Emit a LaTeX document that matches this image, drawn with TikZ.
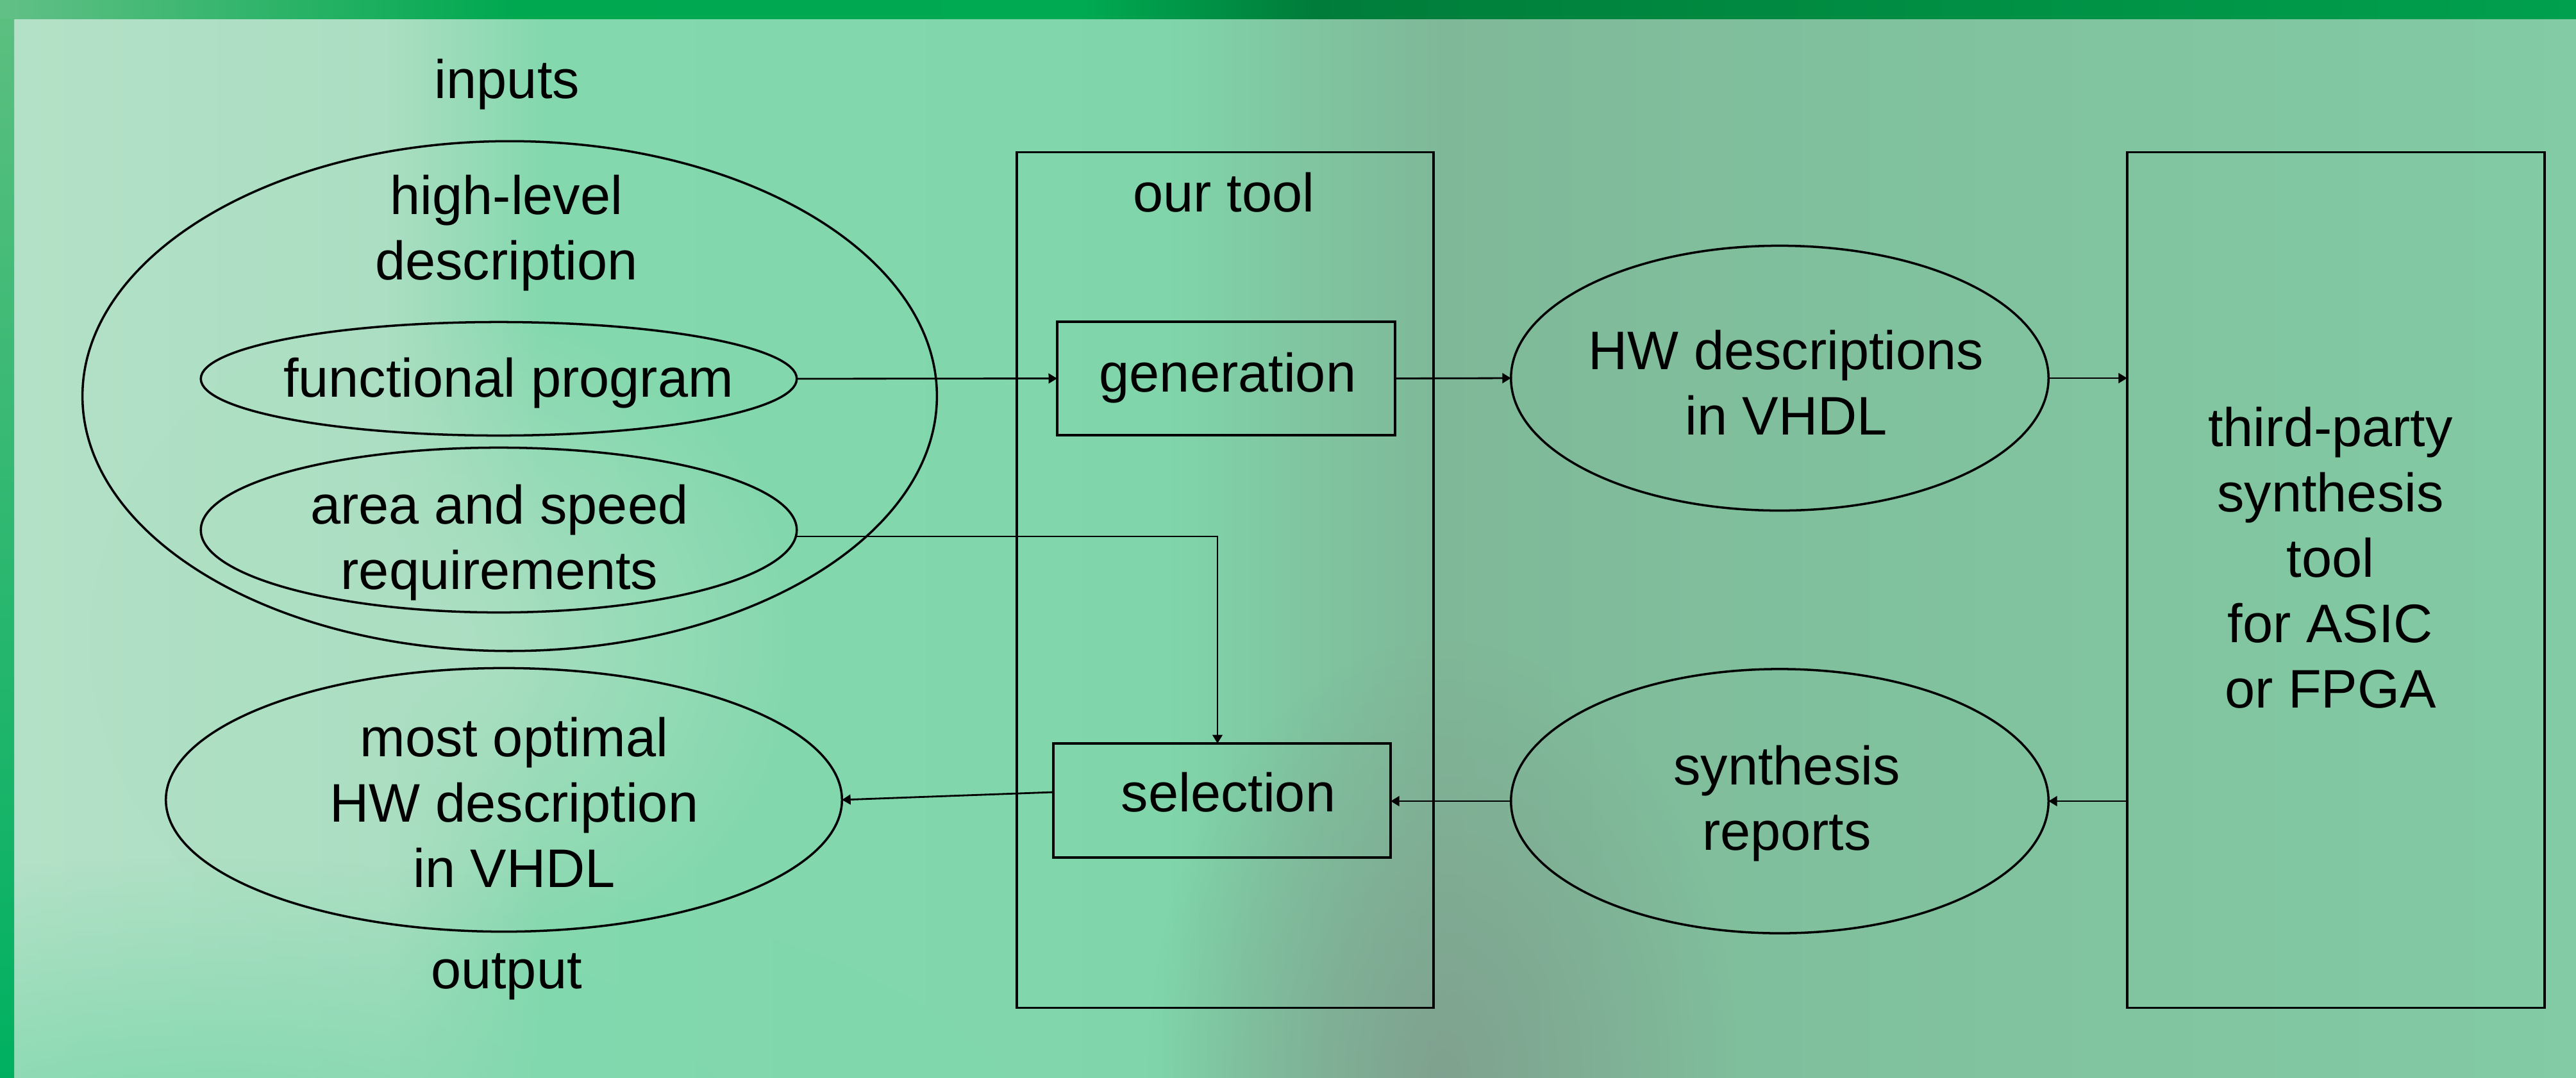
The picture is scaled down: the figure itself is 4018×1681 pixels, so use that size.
\documentclass[tikz,border=0pt]{standalone}
\usepackage{fontspec}
\setmainfont{Liberation Sans}
\usetikzlibrary{arrows.meta,calc,fadings,shapes.geometric}
\definecolor{tb0}{HTML}{62C086}
\definecolor{tb1}{HTML}{00A850}
\definecolor{tb2}{HTML}{00AA52}
\definecolor{tb3}{HTML}{007C3A}
\definecolor{tb4}{HTML}{00873F}
\definecolor{tb5}{HTML}{00A04E}
\definecolor{bg0}{HTML}{B3E1C7}
\definecolor{bg1}{HTML}{ABDEC2}
\definecolor{bg2}{HTML}{84D8AE}
\definecolor{bg3}{HTML}{80D6AA}
\definecolor{bg4}{HTML}{80C4A0}
\definecolor{bg5}{HTML}{7FB898}
\definecolor{bg6}{HTML}{80BE9C}
\definecolor{bg7}{HTML}{82CBA4}
\definecolor{lbTop}{HTML}{5BBF80}
\definecolor{lbBot}{HTML}{00B060}
\definecolor{blobLight}{HTML}{ADDFC3}
\definecolor{blobMid}{HTML}{80D8AE}
\definecolor{blobGray}{HTML}{7F9A8C}
\pgfdeclarehorizontalshading{topbarshade}{100bp}{color(0bp)=(tb0); color(25bp)=(tb0); color(35bp)=(tb1); color(46bp)=(tb2); color(50.5bp)=(tb3); color(57.4bp)=(tb4); color(75bp)=(tb5); color(100bp)=(tb5)}
\pgfdeclarehorizontalshading{mainshade}{100bp}{color(0bp)=(bg0); color(25bp)=(bg0); color(32.5bp)=(bg1); color(35.5bp)=(bg2); color(47.5bp)=(bg3); color(50.5bp)=(bg4); color(53bp)=(bg5); color(58bp)=(bg6); color(75bp)=(bg7); color(100bp)=(bg7)}
\tikzfading[name=softblob, inner color=transparent!0, outer color=transparent!100]
\begin{document}
\begin{tikzpicture}[x=0.01cm,y=-0.01cm,
  shp/.style={draw=black, line width=1.0pt, inner sep=0pt, outer sep=0pt},
  ell/.style={shp, ellipse},
  box/.style={shp, rectangle},
  arr/.style={line width=0.8pt, -{Triangle[length=3.8pt,width=4.4pt]}},
  txt/.style={font=\fontsize{24.1}{29}\selectfont, inner sep=0pt, outer sep=0pt, align=center},
]
\useasboundingbox (0,0) rectangle (4018,1681);
\begin{scope}
\clip (0,0) rectangle (4018,1681);
\shade[shading=mainshade] (0,0) rectangle (4018,1681);
\fill[blobLight, path fading=softblob] (700,1000) ellipse [x radius=560, y radius=520];
\fill[blobMid, path fading=softblob] (300,1780) ellipse [x radius=1300, y radius=440];
\fill[blobGray, opacity=0.75, path fading=softblob] (2250,1680) ellipse [x radius=460, y radius=680];
\shade[shading=topbarshade] (0,0) rectangle (4018,29);
\fill[top color=lbTop, bottom color=lbBot] (0,29) rectangle (22,1681);
\end{scope}

\node[ell, minimum width=13.32cm, minimum height=7.95cm] (inEll) at (795,618) {};
\node[ell, minimum width=9.29cm, minimum height=1.77cm] (fp) at (778,591) {};
\node[ell, minimum width=9.29cm, minimum height=2.57cm] (area) at (778,827) {};
\node[ell, minimum width=10.54cm, minimum height=4.11cm] (out) at (786,1248) {};
\node[box, minimum width=6.50cm, minimum height=13.34cm] (tool) at (1911,905) {};
\node[box, minimum width=5.27cm, minimum height=1.77cm] (gen) at (1912.5,590.5) {};
\node[box, minimum width=5.26cm, minimum height=1.78cm] (sel) at (1906,1249) {};
\node[ell, minimum width=8.38cm, minimum height=4.13cm] (hw) at (2776,590) {};
\node[ell, minimum width=8.38cm, minimum height=4.12cm] (rep) at (2776,1250) {};
\node[box, minimum width=6.51cm, minimum height=13.34cm] (third) at (3643.5,905) {};

\node[txt, anchor=base] (tInputs) at (791,153) {inputs};
\node[txt] (tHigh) at (790,363.5) {high-level\\description};
\node[txt, anchor=base] (tFp) at (793,619) {functional program};
\node[txt] (tArea) at (779,847) {area and speed\\requirements};
\node[txt, anchor=base] (tTool) at (1909,330) {our tool};
\node[txt, anchor=base] (tGen) at (1915,611) {generation};
\node[txt, anchor=base] (tSel) at (1916,1266) {selection};
\node[txt] (tHw) at (2786,596.5) {HW descriptions\\in VHDL};
\node[txt] (tThird) at (3635,870.5) {third-party\\synthesis\\tool\\for ASIC\\or FPGA};
\node[txt] (tRep) at (2787,1254) {synthesis\\reports};
\node[txt] (tOpt) at (802,1251.5) {most optimal\\HW description\\in VHDL};
\node[txt, anchor=base] (tOut) at (790,1542) {output};

\draw[arr] (fp.east) -- (gen.west);
\draw[arr] (gen.east) -- (hw.west);
\draw[arr] (hw.east) -- (third.west |- hw.east);
\draw[arr] (third.west |- rep.east) -- (rep.east);
\draw[arr] (rep.west) -- (sel.east |- rep.west);
\draw[arr] ($(sel.west)+(0,-13)$) -- (out.east);
\draw[arr] ($(area.east)+(0,10)$) -| ($(sel.north)+(-7,0)$);
\end{tikzpicture}
\end{document}
